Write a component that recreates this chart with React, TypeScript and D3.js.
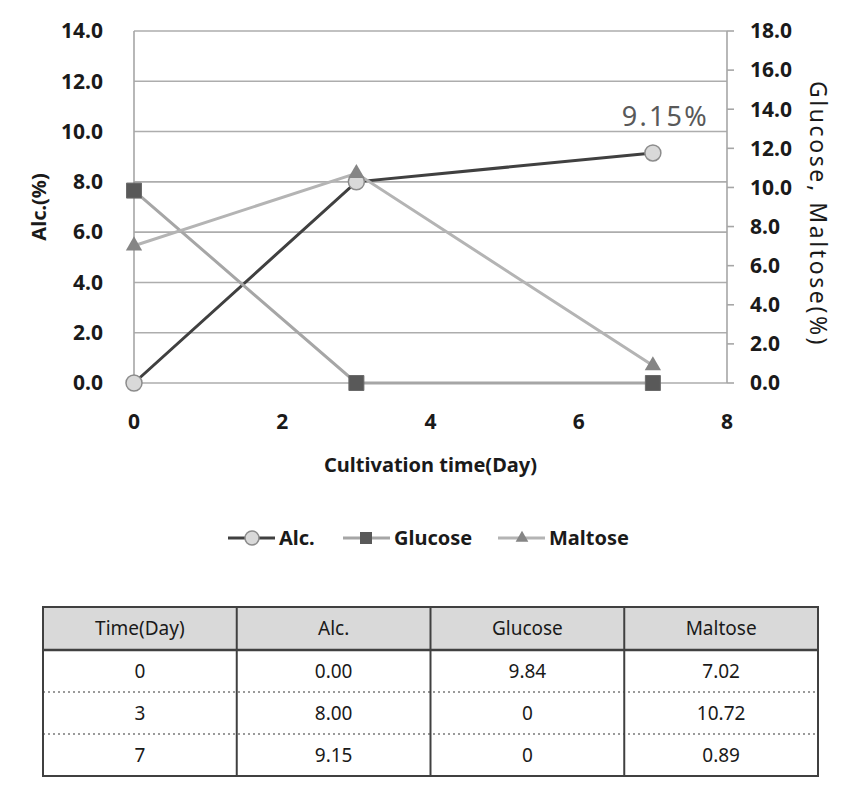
import { useEffect } from 'react';
import * as d3 from 'd3';

// data
const days = [0, 3, 7];
const alc = [0.0, 8.0, 9.15];
const glucose = [9.84, 0, 0];
const maltose = [7.02, 10.72, 0.89];

const xTicks = [0, 2, 4, 6, 8];
const leftTicks = [0, 2, 4, 6, 8, 10, 12, 14];
const rightTicks = [0, 2, 4, 6, 8, 10, 12, 14, 16, 18];

const tableHeaders = ['Time(Day)', 'Alc.', 'Glucose', 'Maltose'];

const W = 848, H = 791;
const FONT = '"Noto Sans", sans-serif';

export default function App() {
  useEffect(() => {
    document.body.style.margin = '0';
    document.body.style.background = '#fff';
  }, []);

  const x = d3.scaleLinear().domain([0, 8]).range([134, 727]);
  const yL = d3.scaleLinear().domain([0, 14]).range([383, 31]);
  const yR = d3.scaleLinear().domain([0, 18]).range([383, 31]);

  const lineL = d3.line<number>().x((_, i) => x(days[i])).y(v => yL(v));
  const lineR = d3.line<number>().x((_, i) => x(days[i])).y(v => yR(v));

  const square = d3.symbol(d3.symbolSquare, 225)();
  const triangle = d3.symbol(d3.symbolTriangle, 115)();
  const legSquare = d3.symbol(d3.symbolSquare, 144)();
  const legTriangle = d3.symbol(d3.symbolTriangle, 70)();

  // table layout
  const colX = d3.scaleLinear().domain([0, 4]).range([43, 818]);
  const rowY = d3.scaleLinear().domain([0, 3]).range([650, 776]);
  const tTop = 607;
  const fmt2 = (v: number) => v.toFixed(2);
  const fmtG = (v: number) => (v === 0 ? '0' : v.toFixed(2));
  const rows = days.map((d, i) => [String(d), fmt2(alc[i]), fmtG(glucose[i]), fmtG(maltose[i])]);

  const [x0, x1] = x.range();
  const [yb, yt] = yL.range();

  const legendItems = [
    { label: 'Alc.', lx: 228, line: '#404040', marker: 'circle' },
    { label: 'Glucose', lx: 343, line: '#a6a6a6', marker: 'square' },
    { label: 'Maltose', lx: 498, line: '#b4b4b4', marker: 'triangle' },
  ];

  return (
    <svg width={W} height={H} style={{ display: 'block', fontFamily: FONT }}>
      <rect width={W} height={H} fill="#fff" />

      {/* grid */}
      {leftTicks.map(t => (
        <line key={'g' + t} x1={x0} x2={x1} y1={yL(t)} y2={yL(t)} stroke="#adadad" strokeWidth={1.6} />
      ))}
      <line x1={x0} x2={x0} y1={yt} y2={yb} stroke="#a6a6a6" strokeWidth={1.6} />
      <line x1={x1} x2={x1} y1={yt} y2={yb} stroke="#a6a6a6" strokeWidth={1.6} />
      {rightTicks.map(t => (
        <line key={'rt' + t} x1={x1} x2={x1 + 7} y1={yR(t)} y2={yR(t)} stroke="#a6a6a6" strokeWidth={1.6} />
      ))}

      {/* left axis labels */}
      {leftTicks.map(t => (
        <text key={'l' + t} x={103} y={yL(t)} dy="0.35em" textAnchor="end" fontSize={21} fontWeight={700} fill="#1a1a1a">
          {t.toFixed(1)}
        </text>
      ))}
      {/* right axis labels */}
      {rightTicks.map(t => (
        <text key={'r' + t} x={750} y={yR(t)} dy="0.35em" textAnchor="start" fontSize={21} fontWeight={700} fill="#1a1a1a">
          {t.toFixed(1)}
        </text>
      ))}
      {/* x axis labels */}
      {xTicks.map(t => (
        <text key={'x' + t} x={x(t)} y={422} dy="0.35em" textAnchor="middle" fontSize={21} fontWeight={700} fill="#1a1a1a">
          {t}
        </text>
      ))}

      {/* axis titles */}
      <text transform="translate(46,207) rotate(-90)" textAnchor="middle" fontSize={20} fontWeight={700} fill="#1a1a1a">
        Alc.(%)
      </text>
      <text transform="translate(810,214) rotate(90)" textAnchor="middle" fontSize={23} letterSpacing={2.6} fill="#1a1a1a">
        Glucose, Maltose(%)
      </text>
      <text x={(x0 + x1) / 2} y={472} textAnchor="middle" fontSize={20} fontWeight={700} fill="#1a1a1a">
        Cultivation time(Day)
      </text>

      {/* series */}
      <path d={lineL(alc) ?? ''} fill="none" stroke="#404040" strokeWidth={3} />
      <path d={lineR(glucose) ?? ''} fill="none" stroke="#a6a6a6" strokeWidth={3} />
      <path d={lineR(maltose) ?? ''} fill="none" stroke="#b4b4b4" strokeWidth={3} />
      {alc.map((v, i) => (
        <circle key={'a' + i} cx={x(days[i])} cy={yL(v)} r={8} fill="#d9d9d9" stroke="#8c8c8c" strokeWidth={1.5} />
      ))}
      {glucose.map((v, i) => (
        <path key={'gl' + i} d={square ?? ''} transform={`translate(${x(days[i])},${yR(v)})`} fill="#595959" stroke="#6b6b6b" strokeWidth={1} />
      ))}
      {maltose.map((v, i) => (
        <path key={'m' + i} d={triangle ?? ''} transform={`translate(${x(days[i])},${yR(v)})`} fill="#858585" />
      ))}

      {/* annotation */}
      <text x={x(days[2]) + 56} y={126} textAnchor="end" fontSize={27} letterSpacing={2.2} fill="#595959">
        9.15%
      </text>

      {/* legend */}
      {legendItems.map(it => (
        <g key={it.label} transform={`translate(${it.lx},538)`}>
          <line x1={0} x2={47} y1={0} y2={0} stroke={it.line} strokeWidth={3} />
          {it.marker === 'circle' && <circle cx={24} cy={0} r={7} fill="#d9d9d9" stroke="#8c8c8c" strokeWidth={1.5} />}
          {it.marker === 'square' && <path d={legSquare ?? ''} transform="translate(23,0)" fill="#595959" />}
          {it.marker === 'triangle' && <path d={legTriangle ?? ''} transform="translate(24,0)" fill="#858585" />}
          <text x={51} y={0} dy="0.35em" fontSize={20} fontWeight={700} fill="#1a1a1a">
            {it.label}
          </text>
        </g>
      ))}

      {/* table */}
      <rect x={colX(0)} y={tTop} width={colX(4) - colX(0)} height={rowY(0) - tTop} fill="#d9d9d9" />
      {tableHeaders.map((h, c) => (
        <text key={'h' + c} x={(colX(c) + colX(c + 1)) / 2} y={(tTop + rowY(0)) / 2} dy="0.35em" textAnchor="middle" fontSize={19} fill="#1a1a1a">
          {h}
        </text>
      ))}
      {rows.map((r, ri) =>
        r.map((cell, c) => (
          <text key={`c${ri}-${c}`} x={(colX(c) + colX(c + 1)) / 2} y={(rowY(ri) + rowY(ri + 1)) / 2} dy="0.35em" textAnchor="middle" fontSize={19} fill="#1a1a1a">
            {cell}
          </text>
        ))
      )}
      {[1, 2].map(ri => (
        <line key={'d' + ri} x1={colX(0)} x2={colX(4)} y1={rowY(ri)} y2={rowY(ri)} stroke="#9a9a9a" strokeWidth={2} strokeDasharray="2,3" />
      ))}
      <line x1={colX(0)} x2={colX(4)} y1={rowY(0)} y2={rowY(0)} stroke="#404040" strokeWidth={2.5} />
      {[1, 2, 3].map(c => (
        <line key={'v' + c} x1={colX(c)} x2={colX(c)} y1={tTop} y2={rowY(3)} stroke="#404040" strokeWidth={2} />
      ))}
      <rect x={colX(0)} y={tTop} width={colX(4) - colX(0)} height={rowY(3) - tTop} fill="none" stroke="#404040" strokeWidth={2} />
    </svg>
  );
}
